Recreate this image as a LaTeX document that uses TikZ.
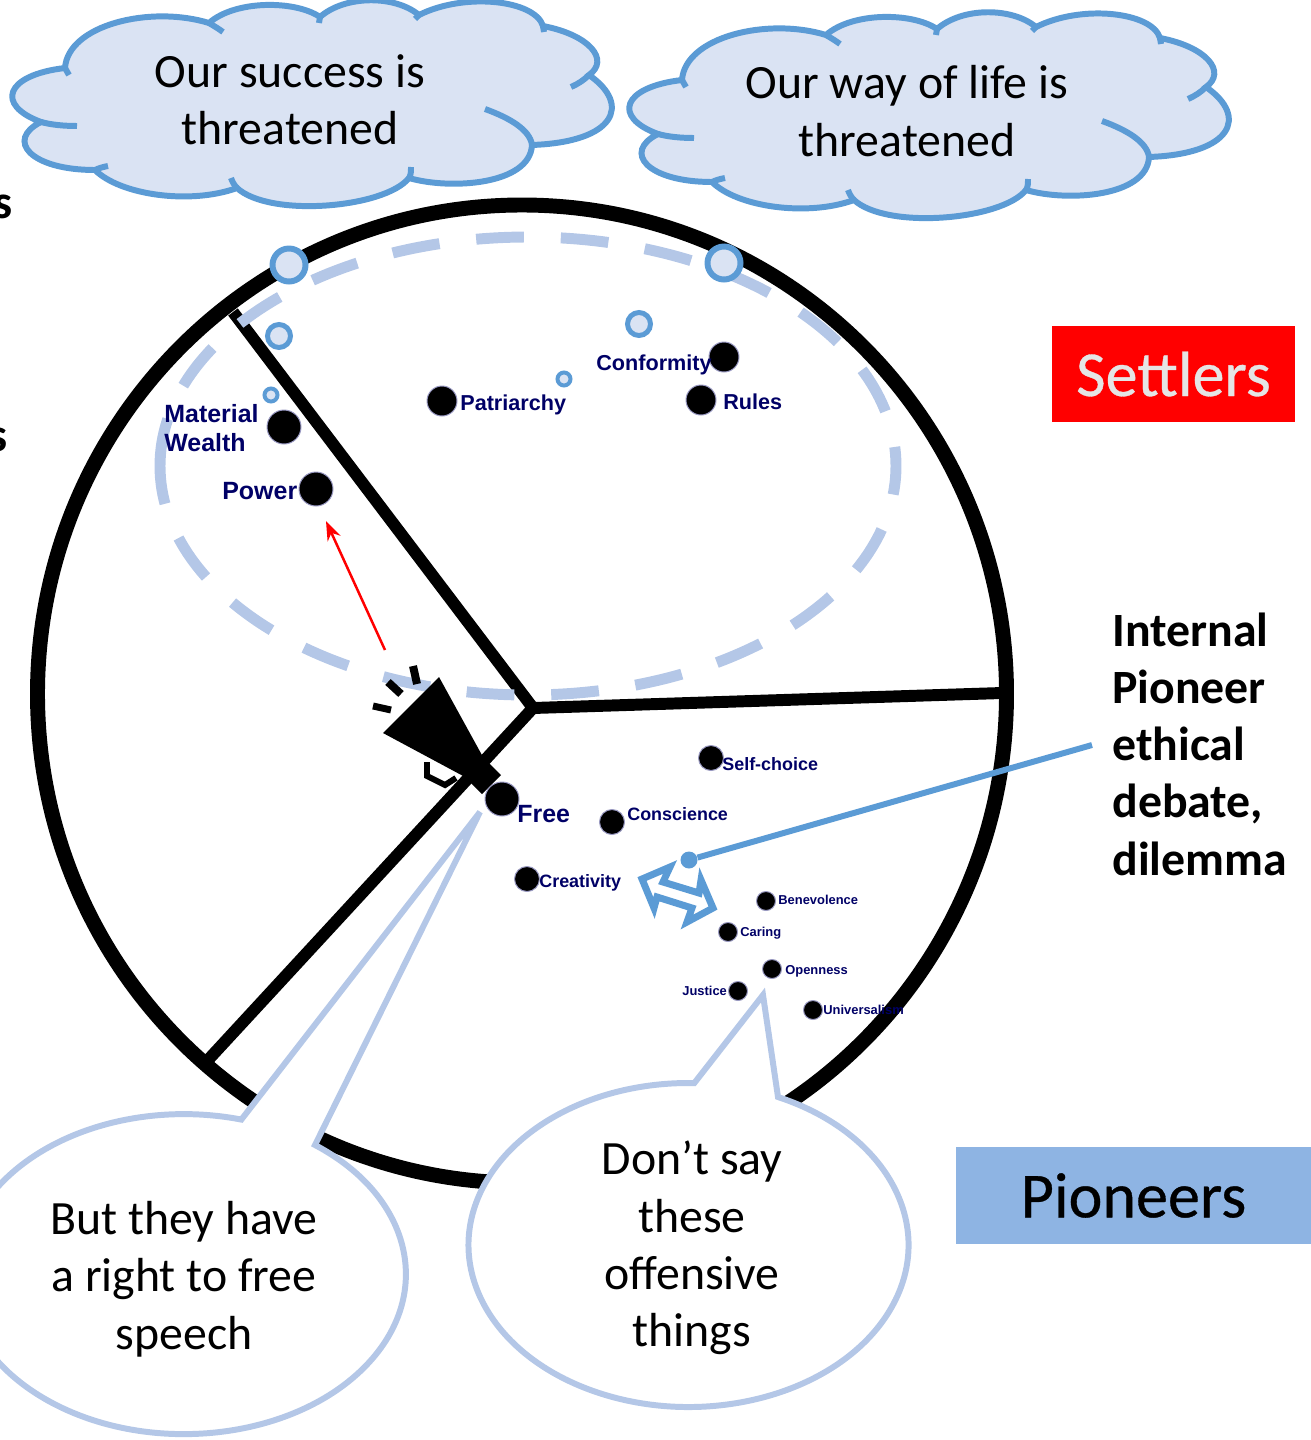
\documentclass[tikz,border=0pt]{standalone}
\usepackage{fontspec}
\setmainfont{Carlito}
\newfontfamily\labelfont{Liberation Sans}
\newfontfamily\legendfont{Carlito}[FakeBold=0.5]
\usetikzlibrary{arrows.meta}
\definecolor{cloudblue}{HTML}{5B9BD5}
\definecolor{cloudfill}{HTML}{DAE3F3}
\definecolor{dashblue}{HTML}{B4C7E7}
\definecolor{labelnavy}{HTML}{000066}
\definecolor{pioneerblue}{HTML}{8EB4E3}
\newcommand{\threatcloud}{
    \draw [fill=cloudfill,draw=cloudblue,px=6]
        (65,68) .. controls (68,25) and (150,5) .. (209,23)
        .. controls (235,0) and (295,0) .. (320,17)
        .. controls (345,-5) and (395,-5) .. (419,15)
        .. controls (465,-8) and (535,0) .. (543,26)
        .. controls (590,35) and (610,60) .. (589,75)
        .. controls (632,105) and (615,142) .. (532,145)
        .. controls (530,185) and (450,190) .. (409,178)
        .. controls (385,208) and (270,218) .. (237,188)
        .. controls (190,205) and (120,195) .. (95,170)
        .. controls (30,170) and (5,140) .. (41,122)
        .. controls (-5,105) and (5,75) .. (65,68) -- cycle;
    \draw [draw=cloudblue,px=6] (65,68) -- (69,75);
    \draw [draw=cloudblue,px=6] (41,122) .. controls (52,125) and (65,126) .. (77,126);
    \draw [draw=cloudblue,px=6] (95,170) .. controls (99,168) and (103,167) .. (108,166);
    \draw [draw=cloudblue,px=6] (237,188) .. controls (234,185) and (232,181) .. (231,178);
    \draw [draw=cloudblue,px=6] (409,178) .. controls (411,175) and (411,171) .. (411,167);
    \draw [draw=cloudblue,px=6] (532,145) .. controls (530,130) and (510,118) .. (485,109);
    \draw [draw=cloudblue,px=6] (589,75) .. controls (584,80) and (578,84) .. (571,87);
    \draw [draw=cloudblue,px=6] (543,26) -- (544,32);
    \draw [draw=cloudblue,px=6] (419,15) -- (415,19);
    \draw [draw=cloudblue,px=6] (320,17) -- (319,23);
    \draw [draw=cloudblue,px=6] (209,23) .. controls (214,26) and (219,29) .. (223,32);
}
\tikzset{
    px/.style={line width=#1*0.5669pt},
    saying/.style={align=center,font=\fontsize{27.2}{32.6}\selectfont,inner sep=0pt},
    cutword/.style={anchor=east,inner sep=0pt,font=\bfseries\fontsize{27.2}{32.6}\selectfont},
    bigdot/.style={circle,fill=black,draw=black!60!blue!40,px=1,inner sep=0pt,minimum size=#1*0.02cm},
    ringdot/.style={circle,fill=cloudfill,draw=cloudblue,inner sep=0pt,minimum size=#1*0.02cm},
    biglabel/.style={anchor=west,inner sep=0pt,text=labelnavy,font=\labelfont\bfseries\fontsize{14.2}{16.5}\selectfont},
    toplabel/.style={anchor=west,inner sep=0pt,text=labelnavy,font=\labelfont\bfseries\fontsize{12.3}{15}\selectfont},
    midlabel/.style={anchor=west,inner sep=0pt,text=labelnavy,font=\labelfont\bfseries\fontsize{10.2}{12}\selectfont},
    smalllabel/.style={anchor=west,inner sep=0pt,text=labelnavy,font=\labelfont\bfseries\fontsize{7.35}{9}\selectfont}
}
\begin{document}
\begin{tikzpicture}[x=0.02cm,y=0.02cm,yscale=-1]
\useasboundingbox (0,0) rectangle (1311,1440);
\clip (0,0) rectangle (1311,1440);
% clipped words at the left edge
\path
    (13,207) node [cutword] (cutone) {s}
    (2,265) node [cutword] (cuttwo) {s}
    (8,440) node [cutword] (cutthree) {s};
% wheel
\coordinate (hub) at (533,708);
\coordinate (settlerend) at (233,312);
\coordinate (pioneerend) at (1002,693);
\coordinate (lowerend) at (208,1060);
\draw [px=15] (522,694) ellipse (484.5 and 489);
\draw [px=12] (settlerend) -- (hub) -- (pioneerend) (hub) -- (lowerend);
\draw [dashblue,px=11,dash pattern=on 27.2pt off 21pt] (160,466) arc [start angle=180,end angle=540,x radius=368,y radius=229];
% rings
\path
    (289,265) node [ringdot=33,px=6] (ringa) {}
    (724,263) node [ringdot=33,px=6] (ringb) {}
    (279,336) node [ringdot=23,px=5] (ringc) {}
    (639,324) node [ringdot=23,px=5] (ringd) {}
    (564,379) node [ringdot=13,px=4] (ringe) {}
    (271,395) node [ringdot=13,px=4] (ringf) {};
% megaphone
\fill (439,677) -- (383,733) -- (465,777) -- (483,757) -- cycle;
\fill (483,757) -- (501,775) -- (482,794) -- (465,777) -- cycle;
\draw [px=6] (427,762) -- (427,776) -- (445,785) -- (456,778);
\draw [px=7] (373,706) -- (391,710);
\draw [px=8] (388,682) -- (401,694);
\draw [px=8] (413,666) -- (417,684);
% values
\path
    (442,401) node [bigdot=30] (patriarchy) {} +(18,4) node [toplabel] (lpatriarchy) {Patriarchy};
\path
    (724,357) node [bigdot=30] (conformity) {} +(-128,8) node [toplabel] (lconformity) {Conformity};
\path
    (701,400) node [bigdot=30] (rules) {} +(22,2) node [toplabel] (lrules) {Rules};
\path
    (284,427) node [bigdot=34] (wealth) {} +(-120,1) node [biglabel,align=left] (lwealth) {Material\\Wealth};
\path
    (316,489) node [bigdot=34] (power) {} +(-94,2) node [biglabel] (lpower) {Power};
\path
    (502,799) node [bigdot=34] (free) {} +(15,15) node [biglabel] (lfree) {Free};
\path
    (711,758) node [bigdot=25] (selfchoice) {} +(11,6) node [midlabel] (lselfchoice) {Self-choice};
\path
    (612,822) node [bigdot=25] (conscience) {} +(15,-8) node [midlabel] (lconscience) {Conscience};
\path
    (527,879) node [bigdot=25] (creativity) {} +(12,4) node [midlabel] (lcreativity) {Creativity};
\path
    (766,901) node [bigdot=19] (benevolence) {} +(12,-1) node [smalllabel] (lbenevolence) {Benevolence};
\path
    (728,932) node [bigdot=19] (caring) {} +(12,1) node [smalllabel] (lcaring) {Caring};
\path
    (772,969) node [bigdot=19] (openness) {} +(13,2) node [smalllabel] (lopenness) {Openness};
\path
    (738,991) node [bigdot=19] (justice) {} +(-56,0) node [smalllabel] (ljustice) {Justice};
\path
    (813,1010) node [bigdot=19] (universalism) {} +(10,0) node [smalllabel] (luniversalism) {Universalism};
% arrows
\coordinate (redstart) at (385,650);
\coordinate (redend) at (326,521);
\draw [red,px=2.5,-{Stealth[length=11pt,width=8pt]}] (redstart) -- (redend);
% debate
\node [anchor=west,align=left,inner sep=0pt,font=\bfseries\fontsize{27.2}{32.6}\selectfont] (debate) at (1112,744)
    {Internal\\Pioneer\\ethical\\debate,\\dilemma};
\node [circle,fill=cloudblue,inner sep=0pt,minimum size=17*0.02cm] (debatedot) at (689,860) {};
\coordinate (debateend) at (1092,745);
\draw [cloudblue,px=6] (debateend) -- (debatedot);
\draw [fill=white,draw=cloudblue,px=7,miter limit=10]
    (642,879) -- (670,867) -- (663,882) -- (699,893) -- (701,880) -- (713,908)
    -- (687,922) -- (692,908) -- (657,897) -- (654,908) -- cycle;
% clouds
\threatcloud
\begin{scope}[shift={(617,12)}]
\threatcloud
\end{scope}
\node [saying] (success) at (290,100) {Our success is\\threatened};
\node [saying] (wayoflife) at (907,111) {Our way of life is\\threatened};
% callouts
\coordinate (freetip) at (480,812);
\coordinate (saytip) at (763,995);
\draw [fill=white,draw=dashblue,px=6] (315,1145) arc [start angle=-53.8,end angle=285,x radius=222,y radius=160] -- (freetip) -- cycle;
\draw [fill=white,draw=dashblue,px=6] (778,1097) arc [start angle=-66,end angle=271.5,x radius=220,y radius=162] -- (saytip) -- cycle;
\node [saying] (rightfree) at (184,1279) {But they have\\a right to free\\speech};
\node [saying] (dontsay) at (692,1248) {Don’t say\\these\\offensive\\things};
% legend
\node [fill=red,minimum width=243*0.02cm,minimum height=96*0.02cm,inner sep=0pt,text=white!90!black,font=\legendfont\fontsize{36.5}{40}\selectfont] (settlers) at (1173.5,374) {Settlers};
\node [fill=pioneerblue,minimum width=355*0.02cm,minimum height=97*0.02cm,inner sep=0pt,font=\legendfont\fontsize{36.5}{40}\selectfont] (pioneers) at (1133.5,1195.5) {Pioneers};
\end{tikzpicture}
\end{document}
